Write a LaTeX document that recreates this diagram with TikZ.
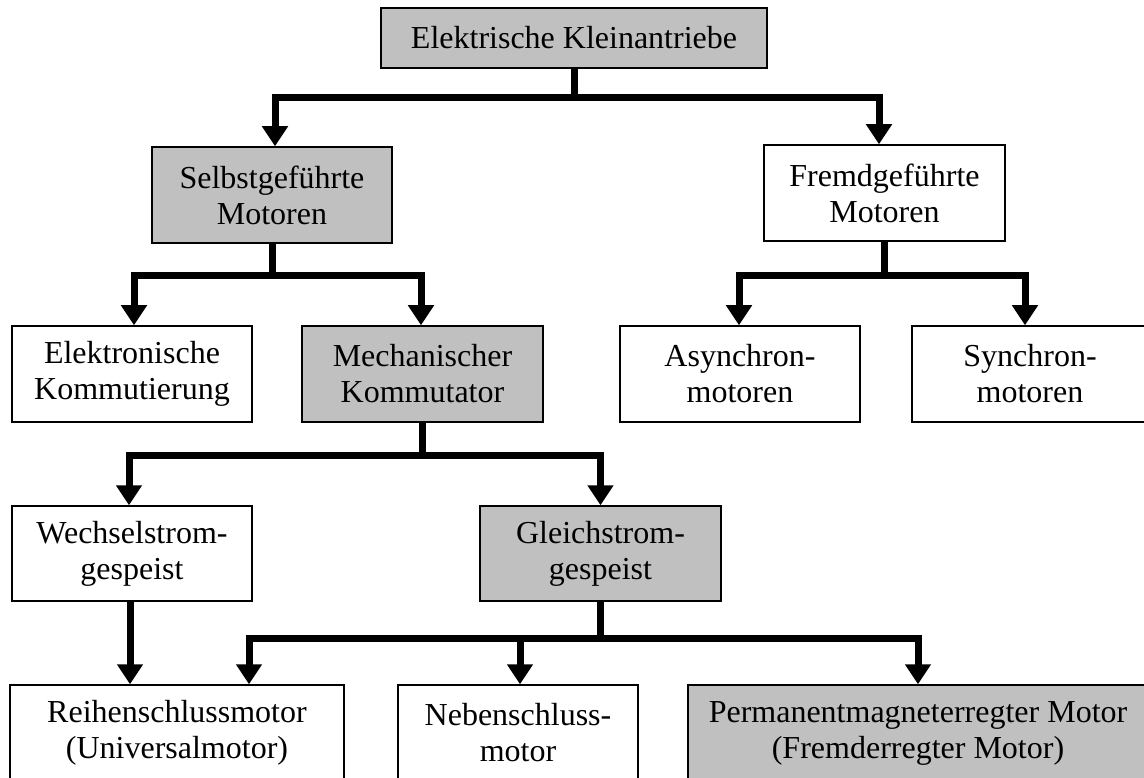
\documentclass[tikz,border=0pt]{standalone}
\usepackage{fontspec}
\setmainfont{Liberation Serif}
\usetikzlibrary{arrows.meta,calc}
\definecolor{boxgray}{HTML}{C0C0C0}
\begin{document}
\begin{tikzpicture}[x=1pt,y=-1pt,
  box/.style={draw=black,line width=1.5pt,fill=white,inner sep=0pt,align=center,
    font=\fontsize{32}{36}\selectfont,text=black,minimum height=96pt},
  gbox/.style={box,fill=boxgray},
  conn/.style={line width=7pt,line join=miter,draw=black,-{Triangle[width=25pt,length=20pt]}},
  plain/.style={line width=7pt,line join=miter,draw=black}
]
\useasboundingbox (0,0) rectangle (1144,778);
\clip (0,0) rectangle (1144,778);

% nodes
\node[gbox,minimum width=386pt,minimum height=60pt] (top) at (574,38) {Elektrische Kleinantriebe};
\node[gbox,minimum width=240pt] (selbst) at (272,195) {Selbstgeführte\\Motoren};
\node[box,minimum width=241pt] (fremd) at (884.5,193) {Fremdgeführte\\Motoren};
\node[box,minimum width=240pt] (elek) at (132,374) {Elektronische\\Kommutierung};
\node[gbox,minimum width=241pt] (mech) at (422.5,374) {Mechanischer\\Kommutator};
\node[box,minimum width=240pt] (async) at (740,374) {Asynchron-\\motoren};
\node[box,minimum width=236pt] (sync) at (1030,374) {Synchron-\\motoren};
\node[box,minimum width=240pt,minimum height=95pt] (wechsel) at (132,553.5) {Wechselstrom-\\gespeist};
\node[gbox,minimum width=241pt,minimum height=95pt] (gleich) at (600.5,553.5) {Gleichstrom-\\gespeist};
\node[box,minimum width=334pt] (reihen) at (177,733) {Reihenschlussmotor\\(Universalmotor)};
\node[box,minimum width=240pt] (neben) at (518,733) {Nebenschluss-\\motor};
\node[gbox,minimum width=460pt] (perm) at (918,733) {Permanentmagneterregter Motor\\(Fremderregter Motor)};

% connectors level 1
\draw[conn] (top.south) -- ++(0,29) -| ([xshift=3pt]selbst.north);
\draw[conn] (top.south) -- ++(0,29) -| ([xshift=-5.5pt]fremd.north);
% level 2
\draw[conn] (selbst.south) -- ++(0,32) -| ([xshift=2pt]elek.north);
\draw[conn] (selbst.south) -- ++(0,32) -| ([xshift=-1.5pt]mech.north);
\draw[conn] (fremd.south) -- ++(0,34) -| ([xshift=-1pt]async.north);
\draw[conn] (fremd.south) -- ++(0,34) -| ([xshift=-5pt]sync.north);
% level 3
\draw[conn] (mech.south) -- ++(0,33) -| ([xshift=-3pt]wechsel.north);
\draw[conn] (mech.south) -- ++(0,33) -| (gleich.north);
% level 4
\draw[conn] ([xshift=-2pt]wechsel.south) -- ([xshift=-47pt]reihen.north);
\draw[conn] (gleich.south) -- ++(0,37) -| ([xshift=72pt]reihen.north);
\draw[conn] (gleich.south) -- ++(0,37) -| ([xshift=2pt]neben.north);
\draw[conn] (gleich.south) -- ++(0,37) -| (perm.north);
\end{tikzpicture}
\end{document}
